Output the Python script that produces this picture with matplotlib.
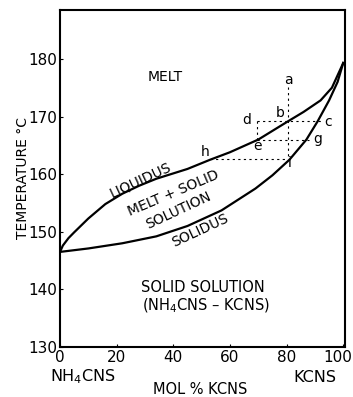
import matplotlib
matplotlib.use('Agg')
import matplotlib.pyplot as plt
from matplotlib.transforms import ScaledTranslation

# liquidus / solidus (mol % KCNS, deg C)
liq_x = [0, 1, 3, 5, 10, 16, 22, 28, 34, 45, 53, 60, 70, 80.6, 86, 92, 96, 100]
liq_y = [146.5, 147.6, 148.9, 149.9, 152.3, 154.8, 156.6, 158.0, 159.2, 160.9,
         162.5, 163.8, 166.0, 169.2, 170.8, 172.8, 175.0, 179.3]
sol_x = [0, 10, 22, 34, 45, 57, 69, 75, 81, 87, 91, 95, 98, 100]
sol_y = [146.5, 147.1, 148.0, 149.2, 151.0, 153.7, 157.5, 159.8, 162.5, 166.0,
         169.2, 172.8, 176.0, 179.3]

# construction lines (dotted)
guides = [
    ([80.6, 80.6], [175.2, 162.6]),   # a -> i
    ([69.6, 93.0], [169.2, 169.2]),   # d -> c
    ([69.6, 69.6], [169.2, 166.0]),   # d -> e
    ([69.6, 88.0], [166.0, 166.0]),   # e -> g
    ([53.0, 80.6], [162.6, 162.6]),   # h -> i
]
points = {'a': (80.6, 176.4), 'b': (77.8, 170.6), 'c': (94.6, 169.1),
          'd': (66.0, 169.4), 'e': (69.6, 164.9), 'g': (91.0, 166.1),
          'h': (51.2, 163.9), 'i': (81.2, 161.9)}

xticks = [0, 20, 40, 60, 80, 100]
yticks = [130, 140, 150, 160, 170, 180]

fig = plt.figure(figsize=(3.53, 3.97), dpi=100)
ax = fig.add_axes([0.170, 0.126, 0.808, 0.849])

ax.plot(liq_x, liq_y, color='black', lw=1.6)
ax.plot(sol_x, sol_y, color='black', lw=1.6)
for gx, gy in guides:
    ax.plot(gx, gy, color='black', lw=0.8, linestyle=(0, (2, 3)))
for k, (px, py) in points.items():
    ax.text(px, py, k, fontsize=10, ha='center', va='center')

ax.text(37, 176.8, 'MELT', fontsize=10, ha='center', va='center')
ax.text(28.3, 158.9, 'LIQUIDUS', fontsize=10, ha='center', va='center', rotation=25)
ax.text(40, 156.6, 'MELT + SOLID', fontsize=10, ha='center', va='center', rotation=23)
ax.text(41.8, 153.7, 'SOLUTION', fontsize=10, ha='center', va='center', rotation=25)
ax.text(49.5, 150.3, 'SOLIDUS', fontsize=10, ha='center', va='center', rotation=25)
ax.text(50.5, 140.4, 'SOLID SOLUTION', fontsize=10.5, ha='center', va='center')
ax.text(51.6, 137.1, '(NH$_4$CNS – KCNS)', fontsize=10.5, ha='center', va='center')

ax.set_xlim(0, 100.7)
ax.set_ylim(130, 188.5)
ax.set_xticks(xticks)
ax.set_yticks(yticks)
ax.tick_params(direction='in', length=2, width=0.8, labelsize=11, pad=2)
for s in ax.spines.values():
    s.set_linewidth(1.5)

# pull the last x label in so it stays inside the picture
last = ax.get_xticklabels()[-1]
last.set_transform(last.get_transform() + ScaledTranslation(-4 / 72, 0, fig.dpi_scale_trans))

fig.text(0.065, 0.552, 'TEMPERATURE °C', rotation=90, fontsize=10,
         ha='center', va='center')
fig.text(0.235, 0.050, 'NH$_4$CNS', fontsize=11.5, ha='center', va='center')
fig.text(0.892, 0.050, 'KCNS', fontsize=11.5, ha='center', va='center')
fig.text(0.567, 0.018, 'MOL % KCNS', fontsize=10.5, ha='center', va='center')

fig.savefig('out.png', dpi=100)
